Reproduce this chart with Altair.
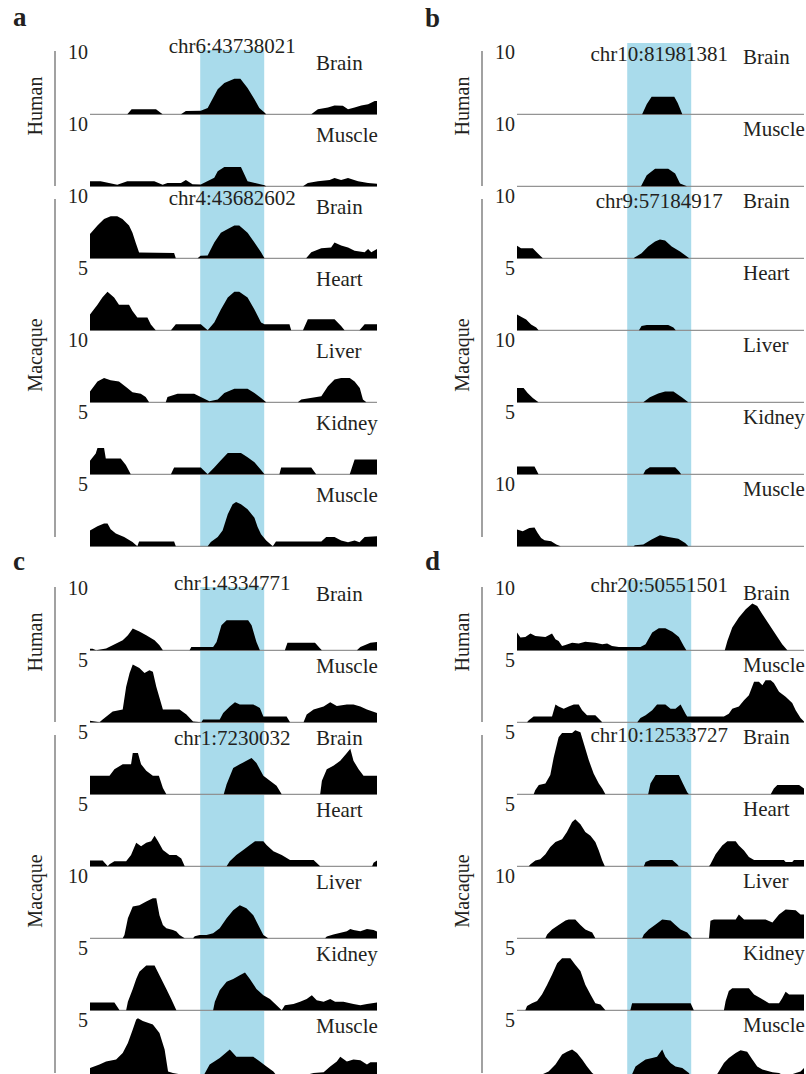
import altair as alt
import pandas as pd

# ---------------- data (x in % of the window, y = signal) ----------------
TISSUES = ["Brain", "Muscle", "Brain", "Heart", "Liver", "Kidney", "Muscle"]
SPECIES = ["Human", "Macaque"]
BAND_X = [38.4, 60.7]

A_YMAX = [10, 10, 10, 5, 10, 5, 5]
B_YMAX = [10, 10, 10, 5, 10, 5, 10]
C_YMAX = [10, 5, 5, 5, 10, 5, 5]
D_YMAX = [10, 5, 5, 5, 10, 5, 5]

A_CHR = ["chr6:43738021", "chr4:43682602"]
B_CHR = ["chr10:81981381", "chr9:57184917"]
C_CHR = ["chr1:4334771", "chr1:7230032"]
D_CHR = ["chr20:50551501", "chr10:12533727"]

# panel a
A_HS_BRAIN_X = [0, 13, 14.5, 23, 25.3, 31.7, 33.4, 38.6, 41, 44.5, 46.8, 50.3, 52.4, 54.9, 57.3, 59, 60.8, 61.4, 77.1, 79.4, 82.9, 85.2, 88.1, 89.9, 92.2, 94.5, 96.9, 99.2, 100]
A_HS_BRAIN_Y = [0, 0, 0.7, 0.7, 0, 0, 0.45, 0.5, 0.9, 3.5, 4.4, 5.0, 5.0, 3.7, 2.1, 0.9, 0.25, 0, 0, 0.7, 0.95, 1.25, 1.2, 0.7, 0.95, 1.25, 1.4, 1.85, 1.85]
A_HS_MUSCLE_X = [0, 3.7, 9.5, 13, 22.4, 25.3, 27, 31.7, 33.4, 35.7, 38.6, 43.3, 44.5, 46.8, 52.6, 54.9, 60.8, 61.4, 74.2, 75.9, 79.4, 83.5, 85.2, 87.5, 89.9, 93.4, 96.9, 100]
A_HS_MUSCLE_Y = [0.7, 0.7, 0.2, 0.7, 0.7, 0.2, 0.45, 0.45, 0.9, 0.3, 0.25, 1.2, 2.1, 2.7, 2.7, 0.7, 0.15, 0, 0, 0.45, 0.7, 0.9, 1.15, 0.9, 1.15, 0.7, 0.45, 0.35]
A_MM_BRAIN_X = [0, 2.6, 4.9, 7.2, 9.5, 11.3, 13.6, 14.8, 15.9, 17.1, 29.3, 29.9, 37.5, 38.5, 41, 43.3, 45.6, 48, 50.3, 52, 54.9, 57.3, 59.6, 60.8, 75.3, 77.1, 80.6, 84, 85.2, 87.5, 89.9, 92.2, 95.7, 96.9, 98, 100]
A_MM_BRAIN_Y = [3.4, 4.6, 5.5, 5.9, 5.9, 5.5, 4.6, 3.6, 2.2, 0.8, 0.75, 0, 0, 0.35, 0.4, 2.2, 3.6, 4.1, 4.6, 4.6, 3.6, 2.2, 0.85, 0, 0, 0.85, 1.4, 1.5, 2.2, 1.8, 1.5, 1.05, 0.85, 1.3, 0.85, 1.3]
A_MM_HEART_X = [0, 2.6, 4.3, 6.1, 8.4, 10.1, 13.6, 14.8, 16.5, 20, 21.2, 22.9, 28.2, 29.9, 38.6, 41, 43.3, 45.6, 48, 50.3, 52, 54.9, 57.3, 59.6, 60.8, 69.5, 70.1, 74.2, 75.9, 85.2, 87.5, 88.7, 93.9, 95.7, 100]
A_MM_HEART_Y = [1.1, 1.8, 2.3, 2.7, 2.3, 1.8, 1.8, 1.35, 0.9, 0.9, 0.4, 0, 0, 0.42, 0.42, 0, 0.55, 1.45, 2.3, 2.7, 2.7, 2.3, 1.45, 0.55, 0.42, 0.42, 0, 0, 0.77, 0.77, 0.3, 0, 0, 0.42, 0.42]
A_MM_LIVER_X = [0, 2.6, 4.9, 7.2, 10.1, 13, 14.8, 17.7, 19.4, 20.6, 26.4, 27, 30.5, 36.3, 38.6, 41.6, 44.5, 46.8, 50.3, 54.9, 57.3, 59.6, 61.4, 72.4, 73.6, 80.6, 82.9, 85.2, 87.5, 90.5, 92.2, 94, 95.1, 96.3, 100]
A_MM_LIVER_Y = [1.5, 2.9, 3.4, 3.1, 2.9, 2.0, 1.4, 1.2, 0.75, 0, 0, 0.75, 1.2, 1.2, 0.75, 0.15, 0.4, 1.3, 1.9, 1.9, 1.3, 0.6, 0, 0, 0.4, 0.85, 2.25, 3.2, 3.4, 3.4, 2.9, 2.0, 0.4, 0, 0]
A_MM_KIDNEY_X = [0, 2, 2.6, 4.9, 5.5, 7.2, 10.7, 12.5, 14.2, 28.2, 29.3, 38.6, 41, 43.3, 45.6, 48, 52.6, 54.9, 57.3, 59.6, 60.8, 66, 66.6, 77.1, 78.8, 90.5, 92.2, 100]
A_MM_KIDNEY_Y = [0.95, 1.45, 1.85, 1.85, 1.1, 1.1, 1.1, 0.65, 0, 0, 0.47, 0.47, 0, 0.47, 0.98, 1.5, 1.5, 1.2, 0.85, 0.3, 0, 0, 0.47, 0.47, 0, 0, 1.03, 1.03]
A_MM_MUSCLE_X = [0, 2.6, 4.9, 6.1, 7.2, 9, 11.9, 14.8, 16.5, 17.1, 29.3, 29.9, 41, 42.1, 44.5, 46.2, 48, 49.7, 50.9, 52.6, 54.9, 57.3, 58.4, 59.6, 61.4, 63.7, 64.8, 80.6, 82.3, 85.2, 87.5, 89.9, 92.2, 93.9, 95.7, 100]
A_MM_MUSCLE_Y = [1.1, 1.4, 1.6, 1.6, 1.2, 0.9, 0.65, 0.3, 0, 0.33, 0.33, 0, 0, 0.3, 0.65, 1.1, 2.25, 2.95, 3.1, 2.95, 2.6, 2.0, 1.35, 0.85, 0.4, 0, 0.33, 0.33, 0.65, 0.65, 0.4, 0.28, 0.4, 0.28, 0.65, 0.7]

# panel b
B_HS_BRAIN_X = [0, 43.6, 45.2, 46.9, 54.8, 56, 57.6, 100]
B_HS_BRAIN_Y = [0, 0, 1.4, 2.45, 2.45, 1.6, 0, 0]
B_HS_MUSCLE_X = [0, 43.2, 45.2, 48.1, 52.7, 55.1, 56.8, 59.2, 100]
B_HS_MUSCLE_Y = [0, 0, 1.55, 2.45, 2.45, 1.8, 0.4, 0, 0]
B_MM_BRAIN_X = [0, 1.4, 5.5, 7.2, 9, 40.6, 41.1, 43.4, 45.7, 48.1, 49.8, 51.6, 53.9, 56.8, 59.2, 60, 100]
B_MM_BRAIN_Y = [1.75, 1.4, 1.4, 0.7, 0, 0, 0.15, 0.7, 1.65, 2.35, 2.65, 2.5, 1.65, 0.95, 0.25, 0, 0]
B_MM_HEART_X = [0, 1.4, 3.2, 4.9, 6.7, 7.5, 42.5, 43.4, 45.2, 52.7, 54.5, 55.3, 100]
B_MM_HEART_Y = [1.1, 0.95, 0.75, 0.4, 0.2, 0, 0, 0.3, 0.38, 0.38, 0.2, 0, 0]
B_MM_LIVER_X = [0, 2.3, 3.7, 5.5, 7.5, 44, 46.3, 49.2, 51.6, 54.5, 57.4, 59.7, 100]
B_MM_LIVER_Y = [2.0, 2.0, 1.3, 0.6, 0, 0, 0.7, 1.25, 1.5, 1.5, 0.7, 0, 0]
B_MM_KIDNEY_X = [0, 6.1, 7.5, 44, 44.8, 46.3, 55.1, 56.5, 57.2, 100]
B_MM_KIDNEY_Y = [0.55, 0.55, 0, 0, 0.3, 0.5, 0.5, 0.2, 0, 0]
B_MM_MUSCLE_X = [0, 2, 4.3, 6.1, 7.2, 8.4, 9.6, 11.9, 13.7, 15.2, 40.6, 41.1, 44, 46.9, 49.8, 52.7, 56.2, 58.6, 59.7, 100]
B_MM_MUSCLE_Y = [2.35, 2.1, 2.55, 2.65, 1.85, 1.15, 0.85, 0.7, 0.25, 0, 0, 0.15, 0.25, 0.95, 1.55, 1.3, 1.05, 0.45, 0, 0]

# panel c
C_HS_BRAIN_X = [0, 0.9, 2.1, 5.6, 7.9, 11.4, 13.2, 14.9, 17.2, 19.6, 22.5, 24.2, 25.4, 34.7, 35.3, 42.9, 44.1, 45.8, 47.6, 55.1, 56.3, 58, 59.2, 67.9, 68.8, 78.4, 80.2, 80.8, 93, 94.2, 97.7, 100]
C_HS_BRAIN_Y = [0.2, 0.2, 0, 0.25, 0.7, 1.4, 2.1, 3.05, 2.65, 2.1, 1.4, 0.7, 0, 0, 0.45, 0.45, 1.15, 3.5, 4.2, 4.2, 3.5, 1.15, 0, 0, 1.05, 1.05, 0.25, 0, 0, 0.45, 1.05, 1.15]
C_HS_MUSCLE_X = [0, 3.3, 4.4, 7.9, 11.4, 12.6, 13.8, 14.9, 17.2, 19, 20.7, 21.9, 23.1, 25.4, 31.2, 33.6, 35.9, 38.8, 39.4, 45.2, 46.4, 48.7, 50.5, 52.2, 56.9, 59.2, 60.4, 68.5, 69.7, 74.4, 75.5, 77.9, 81.4, 83.7, 86, 89.5, 91.8, 94.2, 96.5, 100]
C_HS_MUSCLE_Y = [0.1, 0, 0.2, 0.75, 0.9, 2.5, 3.45, 4.05, 3.8, 3.45, 3.65, 3.55, 2.5, 0.9, 0.9, 0.55, 0.05, 0, 0.2, 0.2, 0.65, 1.1, 1.4, 1.25, 1.25, 1.0, 0.4, 0.4, 0, 0, 0.55, 0.9, 1.1, 1.4, 1.15, 1.25, 1.25, 1.1, 0.9, 0.65]
C_MM_BRAIN_X = [0, 6.8, 8.5, 11.4, 14.3, 14.9, 16.7, 17.8, 19.6, 21.9, 24, 25.4, 26.6, 46.6, 47.6, 49.9, 52.2, 54.5, 56.3, 58, 60.4, 62.7, 65, 66.8, 80.2, 80.8, 82.5, 84.8, 87.2, 89.5, 90.7, 91.8, 93.6, 95.3, 100]
C_MM_BRAIN_Y = [1.3, 1.3, 1.75, 2.1, 2.1, 2.9, 2.9, 2.1, 1.65, 1.3, 1.3, 0.45, 0, 0, 0.7, 1.85, 2.1, 2.35, 2.55, 2.2, 1.3, 0.95, 0.6, 0, 0, 0.95, 1.75, 2.0, 2.35, 2.9, 3.2, 2.35, 1.75, 1.3, 1.3]
C_MM_HEART_X = [0, 4.4, 6.2, 6.8, 8.5, 12.6, 14.3, 16.1, 17.8, 19.6, 21.3, 22.5, 23.7, 25.4, 27.7, 30.1, 31.8, 33, 47.6, 48.7, 51, 53.4, 55.7, 57.5, 60.4, 61.5, 63.9, 66.8, 69.7, 77.9, 80.2, 98.3, 98.8, 100]
C_MM_HEART_Y = [0.4, 0.4, 0, 0.15, 0.35, 0.35, 0.8, 1.65, 1.4, 1.65, 1.75, 2.15, 1.75, 1.15, 0.8, 0.8, 0.55, 0, 0, 0.35, 0.8, 1.15, 1.5, 1.75, 1.75, 1.5, 1.05, 0.8, 0.45, 0.45, 0, 0, 0.25, 0.4]
C_MM_LIVER_X = [0, 11.4, 12, 13.2, 14.9, 17.2, 19.6, 21.9, 23.1, 24.2, 25.4, 26.6, 28.9, 30.1, 31.2, 33, 35.9, 36.5, 38.2, 40.6, 42.9, 45.2, 47.6, 49.9, 52.2, 54.5, 56.9, 58, 59.2, 60.4, 62.1, 81.9, 82.5, 84.8, 89.5, 90.7, 91.8, 94.2, 96.5, 98.8, 100]
C_MM_LIVER_Y = [0, 0, 0.45, 2.8, 4.45, 4.65, 5.15, 5.6, 5.6, 3.25, 1.85, 1.4, 1.15, 0.95, 0.45, 0, 0, 0.3, 0.45, 0.45, 0.7, 1.4, 2.8, 3.95, 4.65, 4.2, 3.25, 2.35, 1.4, 0.45, 0, 0, 0.25, 0.55, 1.0, 1.3, 1.15, 1.0, 1.3, 1.15, 0.95]
C_MM_KIDNEY_X = [0, 8.5, 10.3, 12.6, 13.2, 14.9, 16.1, 17.2, 19.6, 22.5, 24.2, 26.6, 28.3, 30.1, 42.9, 43.5, 45.2, 47.6, 49.9, 52.2, 54, 55.7, 58, 60.4, 62.7, 65, 66.8, 67.9, 70.9, 73.2, 75.5, 77.3, 79, 81.4, 83.7, 85.4, 88.3, 91.8, 94.2, 96.5, 100]
C_MM_KIDNEY_Y = [0.55, 0.55, 0, 0, 0.6, 1.5, 2.2, 2.7, 3.15, 3.15, 2.45, 1.5, 0.8, 0, 0, 0.6, 1.4, 2.0, 2.2, 2.45, 2.65, 2.2, 1.5, 1.05, 0.8, 0.35, 0, 0.35, 0.45, 0.6, 0.8, 1.05, 0.7, 0.6, 0.8, 0.6, 0.6, 0.45, 0.35, 0.45, 0.55]
C_MM_MUSCLE_X = [0, 3.3, 5.6, 9.1, 11.4, 13.2, 14.9, 16.1, 16.7, 18.4, 21.9, 24.2, 26, 27.2, 28.9, 31.8, 34.7, 38.2, 39.4, 41.7, 45.2, 48.7, 51, 56.9, 59.2, 61.5, 63.9, 66.8, 69.7, 73.2, 77.9, 81.4, 83.7, 86, 87.2, 89.5, 91.8, 94.2, 96.5, 97.7, 100]
C_MM_MUSCLE_Y = [1.0, 1.25, 1.45, 1.6, 2.05, 2.75, 3.7, 4.4, 4.5, 4.3, 4.05, 3.45, 2.3, 0.75, 0.65, 0.55, 0.25, 0, 0.4, 1.25, 1.7, 2.3, 1.8, 1.8, 1.45, 1.1, 0.75, 0, 0.2, 0.4, 0.65, 0.7, 1.1, 1.45, 1.8, 1.45, 1.6, 1.55, 1.25, 1.4, 1.4]

# panel d
D_HS_BRAIN_X = [0, 1.2, 2.9, 4.7, 6.4, 9.9, 12.2, 13.4, 14.5, 15.7, 16.9, 19.2, 21.5, 23.8, 27.3, 29.7, 31.4, 33.1, 35.5, 43, 44.8, 47.1, 49.4, 51.7, 54.1, 56.4, 58.1, 59, 72.4, 73.3, 75, 77.3, 79.7, 82, 83.7, 85.5, 87.8, 90.1, 92.4, 94.2, 100]
D_HS_BRAIN_Y = [2.5, 1.8, 1.85, 2.35, 2.0, 1.85, 2.35, 1.55, 1.3, 0.6, 0.75, 1.05, 0.95, 1.2, 1.05, 0.85, 0.95, 0.6, 0.45, 0.45, 0.85, 2.5, 3.1, 3.1, 2.6, 1.85, 0.6, 0, 0, 1.3, 3.2, 4.6, 5.75, 6.55, 6.2, 5.05, 3.65, 2.25, 0.85, 0, 0]
D_HS_MUSCLE_X = [0, 3.5, 4.1, 5.8, 12.2, 13.4, 14.5, 16.3, 18, 19.8, 21.5, 22.7, 24.4, 27.3, 29.7, 41.9, 43, 44.8, 47.1, 48.8, 51.7, 53.5, 55.2, 57, 58.7, 59.3, 72.1, 73.8, 75, 77.3, 79.1, 80.8, 82.6, 84.3, 85.5, 86.6, 88.4, 89.5, 91.3, 93.6, 95.9, 97.1, 98.8, 100]
D_HS_MUSCLE_Y = [0, 0, 0.15, 0.4, 0.4, 1.25, 1.1, 0.95, 1.1, 1.25, 1.25, 0.85, 0.5, 0.5, 0, 0, 0.3, 0.5, 0.85, 1.25, 1.25, 0.95, 0.95, 1.25, 0.6, 0.4, 0.4, 0.6, 0.95, 1.1, 1.55, 1.9, 2.85, 2.85, 2.6, 2.95, 2.95, 2.75, 2.15, 1.8, 1.35, 0.85, 0.3, 0.05]
D_MM_BRAIN_X = [0, 5.8, 6.4, 7.6, 9.9, 11.6, 12.8, 14.5, 15.7, 19.2, 20.3, 22.1, 23.3, 25, 26.7, 28.5, 29.7, 30.8, 45.7, 46.5, 48.3, 56.4, 57.6, 59.3, 59.9, 88.4, 89.5, 90.7, 98.3, 100]
D_MM_BRAIN_Y = [0, 0, 0.3, 0.65, 0.75, 1.35, 2.6, 4.0, 4.3, 4.3, 4.5, 4.35, 3.55, 2.4, 1.45, 0.75, 0.4, 0, 0, 0.75, 1.35, 1.35, 0.85, 0.15, 0, 0, 0.4, 0.65, 0.65, 0.4]
D_MM_HEART_X = [0, 4.1, 4.7, 6.4, 8.1, 9.9, 11.6, 13.4, 15.7, 17.4, 19.2, 20.3, 22.1, 23.8, 25.6, 27.3, 28.5, 29.7, 30.6, 44.2, 44.8, 46.5, 54.1, 55.8, 56.4, 66.9, 67.4, 69.2, 71.5, 73.3, 76.2, 77.3, 79.1, 80.8, 82.6, 93, 93.6, 95.9, 96.5, 100]
D_MM_HEART_Y = [0, 0, 0.15, 0.4, 0.5, 0.85, 1.35, 1.7, 1.9, 2.4, 3.1, 3.3, 2.95, 2.4, 2.15, 1.7, 1.1, 0.4, 0, 0, 0.3, 0.45, 0.45, 0.15, 0, 0, 0.15, 0.85, 1.45, 1.75, 1.75, 1.45, 1.1, 0.65, 0.45, 0.45, 0.3, 0.3, 0.45, 0.45]
D_MM_LIVER_X = [0, 9.9, 10.5, 12.2, 14.5, 16.9, 18, 20.3, 22.1, 23.8, 26.2, 27.3, 43.6, 44.2, 45.9, 48.3, 50.6, 53.5, 55.2, 57, 59.3, 61, 66.9, 67.4, 68.6, 76.2, 77.3, 79.1, 86.6, 89, 91.3, 93.6, 97.1, 98.8, 100]
D_MM_LIVER_Y = [0, 0, 0.55, 1.25, 1.85, 2.5, 2.65, 2.65, 1.85, 1.25, 0.8, 0, 0, 0.55, 1.25, 1.95, 2.65, 2.5, 1.85, 1.25, 0.8, 0, 0, 2.45, 2.65, 2.65, 3.35, 2.65, 2.65, 2.2, 3.35, 4.05, 3.95, 3.35, 3.35]
D_MM_KIDNEY_X = [0, 2.9, 3.5, 5.2, 7, 8.7, 10.5, 12.2, 14, 15.7, 18.6, 20.3, 22.1, 23.8, 25.6, 27.3, 29.1, 30.8, 39.5, 40.1, 60.5, 61.6, 72.1, 72.7, 73.8, 75, 80.8, 82.6, 84.9, 87.8, 91.3, 92.4, 93.6, 94.8, 100]
D_MM_KIDNEY_Y = [0, 0, 0.3, 0.5, 0.65, 1.1, 1.8, 2.5, 3.3, 3.65, 3.65, 3.2, 2.75, 1.8, 1.1, 0.5, 0.4, 0, 0, 0.5, 0.5, 0, 0, 0.65, 1.35, 1.55, 1.55, 1.1, 0.85, 0.5, 0.5, 0.85, 1.3, 1.1, 1.1]
D_MM_MUSCLE_X = [0, 2.9, 5.2, 8.7, 11, 13.4, 15.7, 17.4, 19.2, 20.9, 22.7, 24.4, 26.2, 28.5, 30.8, 39, 39.5, 41.3, 43, 44.8, 47.1, 48.8, 50.6, 51.7, 53.5, 55.2, 57.6, 59.9, 61, 63.4, 68.6, 70.3, 72.1, 73.8, 76.2, 77.9, 80.2, 82, 83.7, 85.5, 89, 91.3, 93.6, 97.1, 98.8, 100]
D_MM_MUSCLE_Y = [0, 0.2, 0.3, 0.55, 0.75, 1.25, 1.95, 2.15, 2.3, 2.05, 1.6, 1.1, 0.65, 0.3, 0, 0, 0.3, 1.1, 1.35, 1.6, 1.7, 1.8, 2.3, 1.8, 1.35, 1.1, 1.0, 0.65, 0.3, 0.25, 0.2, 0.75, 1.35, 1.7, 2.05, 2.25, 2.15, 1.6, 1.1, 0.9, 0.7, 0.65, 0.4, 0.65, 0.75, 1.0]

# ---------------- layout / style ----------------
W, H = 287, 71.3
ROW_GAP = 32
COL_GAP = 140
FONT = "Times New Roman, Liberation Serif, Times, serif"
INK = "#231f20"
BLUE = "#a9dbeb"
BASE = "#7a7a7a"
LABEL_SIZE = 21
XS = alt.Scale(domain=[0, 100], nice=False, zero=False)

PANELS = [
    dict(letter="a", ymax=A_YMAX, chr=A_CHR, tissue_dy=44, chr_dy=[61, 53], band_top=7, lx=-77, ly=-17,
         tracks=[(A_HS_BRAIN_X, A_HS_BRAIN_Y), (A_HS_MUSCLE_X, A_HS_MUSCLE_Y), (A_MM_BRAIN_X, A_MM_BRAIN_Y),
                 (A_MM_HEART_X, A_MM_HEART_Y), (A_MM_LIVER_X, A_MM_LIVER_Y), (A_MM_KIDNEY_X, A_MM_KIDNEY_Y),
                 (A_MM_MUSCLE_X, A_MM_MUSCLE_Y)]),
    dict(letter="b", ymax=B_YMAX, chr=B_CHR, tissue_dy=50, chr_dy=[53, 50], band_top=0, lx=-92, ly=-16,
         tracks=[(B_HS_BRAIN_X, B_HS_BRAIN_Y), (B_HS_MUSCLE_X, B_HS_MUSCLE_Y), (B_MM_BRAIN_X, B_MM_BRAIN_Y),
                 (B_MM_HEART_X, B_MM_HEART_Y), (B_MM_LIVER_X, B_MM_LIVER_Y), (B_MM_KIDNEY_X, B_MM_KIDNEY_Y),
                 (B_MM_MUSCLE_X, B_MM_MUSCLE_Y)]),
    dict(letter="c", ymax=C_YMAX, chr=C_CHR, tissue_dy=49, chr_dy=[60, 49], band_top=8, lx=-77, ly=-9,
         tracks=[(C_HS_BRAIN_X, C_HS_BRAIN_Y), (C_HS_MUSCLE_X, C_HS_MUSCLE_Y), (C_MM_BRAIN_X, C_MM_BRAIN_Y),
                 (C_MM_HEART_X, C_MM_HEART_Y), (C_MM_LIVER_X, C_MM_LIVER_Y), (C_MM_KIDNEY_X, C_MM_KIDNEY_Y),
                 (C_MM_MUSCLE_X, C_MM_MUSCLE_Y)]),
    dict(letter="d", ymax=D_YMAX, chr=D_CHR, tissue_dy=50, chr_dy=[58, 52], band_top=1, lx=-92, ly=-9,
         tracks=[(D_HS_BRAIN_X, D_HS_BRAIN_Y), (D_HS_MUSCLE_X, D_HS_MUSCLE_Y), (D_MM_BRAIN_X, D_MM_BRAIN_Y),
                 (D_MM_HEART_X, D_MM_HEART_Y), (D_MM_LIVER_X, D_MM_LIVER_Y), (D_MM_KIDNEY_X, D_MM_KIDNEY_Y),
                 (D_MM_MUSCLE_X, D_MM_MUSCLE_Y)]),
]


def text_layer(label, x, y, size=20, align="left", baseline="alphabetic", angle=0, weight="normal"):
    return alt.Chart(pd.DataFrame({"t": [label]})).mark_text(
        font=FONT, fontSize=size, align=align, baseline=baseline, angle=angle,
        fontWeight=weight, color=INK,
    ).encode(text="t:N", x=alt.value(x), y=alt.value(y))


def vrule(x, y0, y1):
    return alt.Chart(pd.DataFrame({"v": [0]})).mark_rule(color="#8a8a8a", strokeWidth=1.6).encode(
        x=alt.value(x), y=alt.value(y0), y2=alt.value(y1))


def make_track(p, i):
    xs, ys = p["tracks"][i]
    ymax = p["ymax"][i]
    ysc = alt.Scale(domain=[0, ymax], nice=False, zero=True)
    band = alt.Chart(pd.DataFrame({"a": [BAND_X[0]], "b": [BAND_X[1]]})).mark_rect(color=BLUE).encode(
        x=alt.X("a:Q", scale=XS, axis=None), x2="b:Q",
        y=alt.value(p["band_top"] if i == 0 else 0), y2=alt.value(H))
    base = alt.Chart(pd.DataFrame({"v": [0]})).mark_rule(color=BASE, strokeWidth=1).encode(
        x=alt.value(0), x2=alt.value(W), y=alt.Y("v:Q", scale=ysc, axis=None))
    area = alt.Chart(pd.DataFrame({"x": xs, "v": ys})).mark_area(color="black", interpolate="linear").encode(
        x=alt.X("x:Q", scale=XS, axis=None), y=alt.Y("v:Q", scale=ysc, axis=None))
    layers = [band, base, area,
              text_layer(str(ymax), -2, H - 55, align="right"),
              text_layer(TISSUES[i], 226, H - p["tissue_dy"], size=LABEL_SIZE)]
    if i in (0, 2):
        k = 0 if i == 0 else 1
        chr_df = pd.DataFrame({"x": [(BAND_X[0] + BAND_X[1]) / 2], "t": [p["chr"][k]]})
        layers.append(alt.Chart(chr_df).mark_text(font=FONT, fontSize=LABEL_SIZE, align="center",
                                                  baseline="alphabetic", color=INK).encode(
            x=alt.X("x:Q", scale=XS, axis=None), y=alt.value(H - p["chr_dy"][k]), text="t:N"))
        if k == 0:
            layers.append(vrule(-35, 8, 143))
            layers.append(text_layer(SPECIES[0], -54, 63, angle=270, align="center", baseline="middle"))
            layers.append(text_layer(p["letter"], p["lx"], p["ly"], size=27, weight="bold"))
        else:
            layers.append(vrule(-35, 12, 350))
            layers.append(text_layer(SPECIES[1], -54, 168, angle=270, align="center", baseline="middle"))
    if i == 0 and p["letter"] == "a":
        layers.append(alt.Chart(pd.DataFrame({"v": [0]})).mark_rule(opacity=0, strokeWidth=0.01).encode(
            x=alt.value(-90), x2=alt.value(-89), y=alt.value(-43)))
    return alt.layer(*layers).properties(width=W, height=H)


def spacer():
    return alt.Chart(pd.DataFrame({"v": [0]})).mark_point(opacity=0, size=1).encode(
        x=alt.value(1), y=alt.value(1)).properties(width=W, height=ROW_GAP)


cells = []
for i in range(7):
    cells += [make_track(PANELS[0], i), make_track(PANELS[1], i)]
cells += [spacer(), spacer()]
for i in range(7):
    cells += [make_track(PANELS[2], i), make_track(PANELS[3], i)]

chart = alt.concat(*cells, columns=2, spacing={"row": 0, "column": COL_GAP}, bounds="flush").properties(
    padding=0, background="white"
).configure_view(stroke=None)

chart.save("out.html", embed_options={"renderer": "svg", "actions": False})
